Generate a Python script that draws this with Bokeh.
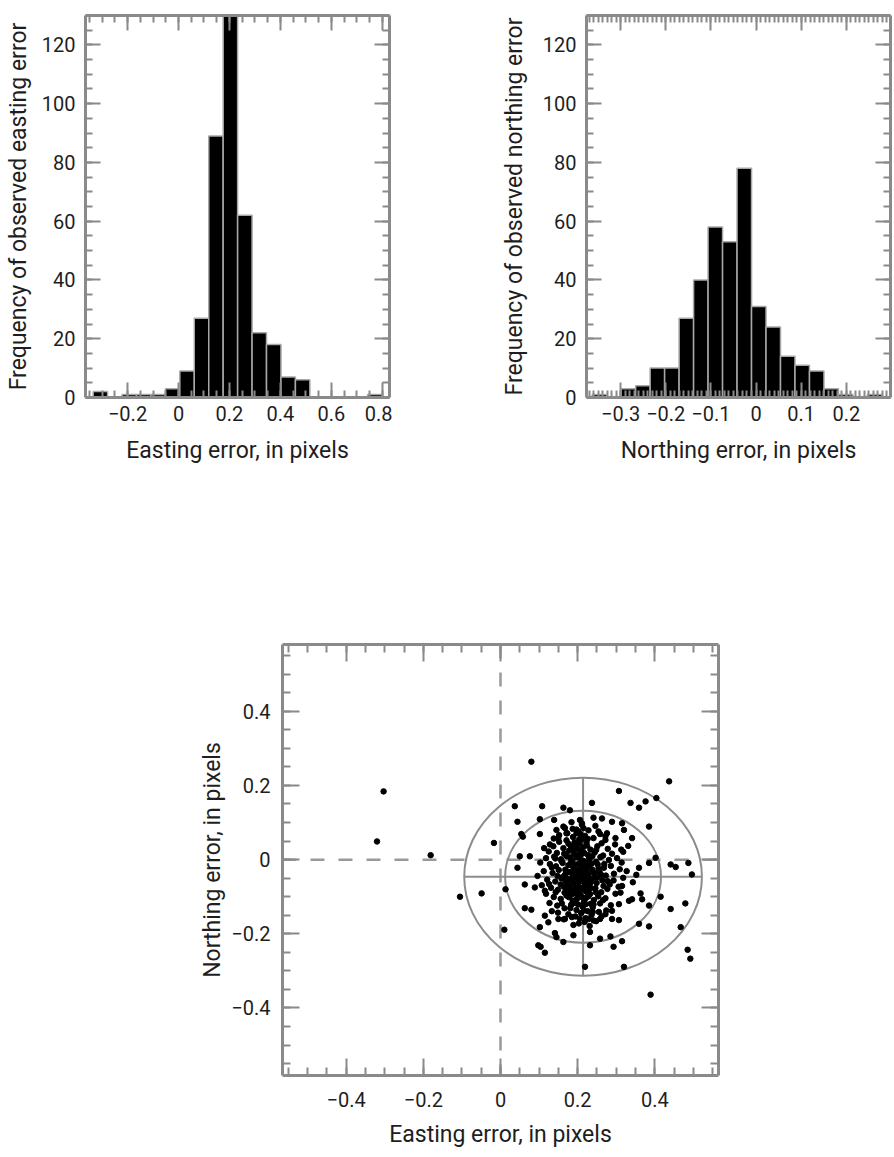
from bokeh.plotting import figure
from bokeh.models import (Range1d, LinearAxis, SingleIntervalTicker,
                          CustomJSTickFormatter, Span, Spacer)
from bokeh.layouts import row, column
from bokeh.embed import file_html
from bokeh.resources import INLINE

# ---------------- data ----------------
east_edges = [-0.335, -0.2783, -0.2216, -0.1649, -0.1082, -0.0515, 0.0052, 0.0619,
              0.1186, 0.1753, 0.232, 0.2887, 0.3454, 0.4021, 0.4588, 0.5155,
              0.5722, 0.6289, 0.6856, 0.7423, 0.799]
east_counts = [2, 0, 1, 1, 1, 3, 9, 27, 89, 130, 62, 22, 18, 7, 6, 0, 0, 0, 0, 1]

north_edges = [-0.363, -0.3309, -0.2988, -0.2667, -0.2346, -0.2025, -0.1704, -0.1383,
               -0.1062, -0.0741, -0.042, -0.0099, 0.0222, 0.0543, 0.0864, 0.1185,
               0.1506, 0.1827, 0.2148, 0.2469, 0.279]
north_counts = [1, 0, 3, 4, 10, 10, 27, 40, 58, 53, 78, 31, 24, 14, 11, 9, 3, 1, 0, 1]

sparse_pts = [
    (-0.303, 0.184), (-0.320, 0.049), (-0.181, 0.012), (-0.017, 0.045), (0.080, 0.264),
    (0.437, 0.211), (0.307, 0.185), (0.337, 0.153), (0.359, 0.140), (0.376, 0.157),
    (0.404, 0.166), (0.037, 0.144), (0.108, 0.144), (0.163, 0.140), (0.180, 0.133),
    (0.237, 0.153), (0.044, 0.102), (0.102, 0.109), (0.139, 0.107), (0.385, 0.089),
    (0.054, 0.069), (0.058, 0.062), (0.102, 0.069), (0.341, 0.058), (0.313, 0.027),
    (0.050, 0.009), (0.076, 0.009), (0.044, -0.022), (0.441, -0.013), (0.454, -0.020),
    (0.487, -0.009), (0.496, -0.040), (0.402, 0.005), (0.359, -0.022), (-0.105, -0.100),
    (-0.049, -0.091), (0.013, -0.080), (0.010, -0.189), (0.063, -0.067), (0.063, -0.131),
    (0.080, -0.135), (0.102, -0.182), (0.098, -0.231), (0.104, -0.235), (0.115, -0.251),
    (0.141, -0.198), (0.145, -0.209), (0.163, -0.222), (0.189, -0.204), (0.219, -0.289),
    (0.232, -0.195), (0.232, -0.231), (0.258, -0.213), (0.285, -0.207), (0.293, -0.235),
    (0.315, -0.220), (0.320, -0.289), (0.389, -0.364), (0.485, -0.243), (0.492, -0.267),
    (0.467, -0.182), (0.441, -0.133), (0.479, -0.118), (0.385, -0.180), (0.359, -0.173),
    (0.385, -0.124), (0.415, -0.100), (0.363, -0.091), (0.367, -0.107), (0.333, -0.111),
    (0.341, -0.107), (0.307, -0.163), (0.289, -0.160),
]

ring_pts = [
    (0.145, 0.080), (0.167, 0.085), (0.171, 0.071), (0.150, 0.058), (0.206, 0.107),
    (0.211, 0.098), (0.215, 0.085), (0.202, 0.076), (0.241, 0.113), (0.263, 0.111),
    (0.289, 0.102), (0.315, 0.098), (0.320, 0.080), (0.254, 0.076), (0.276, 0.071),
    (0.298, 0.058), (0.272, 0.053), (0.385, -0.009), (0.089, -0.075), (0.115, -0.084),
    (0.115, -0.151), (0.124, -0.169), (0.150, -0.160), (0.167, -0.160), (0.185, -0.155),
    (0.228, -0.160), (0.241, -0.164), (0.258, -0.160), (0.272, -0.147), (0.311, -0.089),
    (0.315, -0.071), (0.289, -0.138), (0.307, -0.120),
]

dense_pts = [
    (0.152, 0.048), (0.171, 0.052), (0.188, 0.061), (0.204, 0.055), (0.223, 0.047),
    (0.241, 0.058), (0.262, 0.044), (0.137, 0.036), (0.163, 0.031), (0.196, 0.039),
    (0.214, 0.033), (0.233, 0.027), (0.251, 0.036), (0.278, 0.029), (0.125, 0.022),
    (0.146, 0.018), (0.178, 0.024), (0.191, 0.015), (0.209, 0.021), (0.227, 0.012),
    (0.244, 0.019), (0.266, 0.011), (0.289, 0.016), (0.118, 0.004), (0.139, 0.008),
    (0.157, 0.001), (0.172, 0.009), (0.186, -0.002), (0.199, 0.006), (0.216, -0.004),
    (0.231, 0.003), (0.248, -0.006), (0.259, 0.007), (0.281, -0.001), (0.302, 0.004),
    (0.128, -0.012), (0.144, -0.018), (0.161, -0.009), (0.176, -0.015), (0.189, -0.021),
    (0.203, -0.011), (0.211, -0.024), (0.224, -0.016), (0.238, -0.027), (0.252, -0.013),
    (0.268, -0.022), (0.286, -0.017), (0.309, -0.026), (0.112, -0.031), (0.135, -0.036),
    (0.151, -0.028), (0.167, -0.041), (0.182, -0.033), (0.194, -0.044), (0.207, -0.035),
    (0.219, -0.047), (0.229, -0.038), (0.243, -0.049), (0.257, -0.034), (0.273, -0.043),
    (0.294, -0.038), (0.121, -0.054), (0.142, -0.059), (0.158, -0.051), (0.173, -0.062),
    (0.185, -0.055), (0.198, -0.066), (0.212, -0.057), (0.226, -0.069), (0.236, -0.052),
    (0.249, -0.063), (0.264, -0.056), (0.283, -0.067), (0.131, -0.076), (0.149, -0.081),
    (0.164, -0.073), (0.179, -0.086), (0.192, -0.078), (0.205, -0.089), (0.218, -0.081),
    (0.232, -0.093), (0.246, -0.077), (0.261, -0.088), (0.277, -0.079), (0.298, -0.092),
    (0.138, -0.101), (0.156, -0.106), (0.171, -0.097), (0.187, -0.111), (0.201, -0.103),
    (0.216, -0.115), (0.228, -0.099), (0.242, -0.109), (0.258, -0.118), (0.272, -0.104),
    (0.147, -0.124), (0.166, -0.131), (0.183, -0.122), (0.197, -0.136), (0.213, -0.127),
    (0.226, -0.139), (0.239, -0.129), (0.255, -0.141), (0.176, -0.147), (0.194, -0.153),
    (0.209, -0.144), (0.221, -0.158), (0.236, -0.149), (0.203, -0.172), (0.218, -0.168),
    (0.183, -0.006), (0.195, -0.027), (0.208, -0.019), (0.221, -0.031), (0.186, -0.038),
    (0.199, -0.051), (0.213, -0.042), (0.227, -0.055), (0.176, -0.052), (0.191, -0.064),
    (0.204, -0.074), (0.219, -0.066), (0.233, -0.078), (0.168, -0.027), (0.179, -0.071),
    (0.194, -0.091), (0.208, -0.097), (0.222, -0.086), (0.187, -0.118), (0.201, -0.121),
    (0.214, -0.009), (0.229, -0.002), (0.196, 0.012), (0.182, 0.037), (0.205, 0.043),
    (0.219, 0.064), (0.173, 0.071), (0.197, 0.081), (0.228, 0.079), (0.163, 0.089),
    (0.211, 0.094), (0.184, 0.101), (0.246, 0.091), (0.152, 0.066), (0.138, 0.057),
    (0.258, 0.069), (0.272, 0.063), (0.128, 0.041), (0.113, 0.031), (0.103, -0.008),
    (0.096, -0.044), (0.107, -0.069), (0.118, -0.092), (0.127, -0.117), (0.293, -0.056),
    (0.306, -0.073), (0.318, -0.049), (0.327, -0.031), (0.314, -0.008), (0.297, 0.041),
    (0.318, 0.021), (0.331, 0.037), (0.343, -0.061), (0.352, -0.041), (0.286, -0.123),
    (0.274, -0.137), (0.262, -0.153), (0.248, -0.166), (0.231, -0.179), (0.189, -0.176),
    (0.164, -0.161), (0.149, -0.143), (0.133, -0.139), (0.142, 0.003), (0.156, -0.067),
    (0.166, -0.089), (0.253, -0.099), (0.267, -0.071), (0.241, -0.121), (0.216, -0.137),
]

center_pts = [
    (0.158, -0.004), (0.165, 0.016), (0.174, -0.034), (0.181, 0.006), (0.188, -0.047),
    (0.193, -0.013), (0.197, -0.082), (0.202, 0.027), (0.206, -0.059), (0.209, -0.004),
    (0.212, -0.076), (0.217, 0.018), (0.223, -0.044), (0.226, -0.091), (0.229, -0.021),
    (0.234, -0.061), (0.238, 0.009), (0.243, -0.036), (0.247, -0.088), (0.251, -0.048),
    (0.169, -0.058), (0.177, -0.101), (0.184, -0.083), (0.189, 0.028), (0.196, -0.108),
    (0.203, -0.043), (0.207, 0.011), (0.214, -0.103), (0.218, -0.029), (0.224, 0.038),
    (0.231, -0.071), (0.236, -0.011), (0.162, -0.047), (0.171, -0.079), (0.185, -0.094),
    (0.192, 0.047), (0.199, -0.029), (0.211, 0.056), (0.221, -0.104), (0.234, -0.119),
    (0.181, -0.131), (0.197, 0.071), (0.176, 0.043), (0.254, -0.024), (0.261, -0.041),
    (0.248, 0.026), (0.266, -0.109), (0.159, -0.118), (0.143, -0.088), (0.148, -0.044),
    (0.187, 0.083), (0.207, 0.069), (0.226, 0.056), (0.239, -0.141), (0.205, -0.159),
    (0.221, -0.120), (0.278, -0.058), (0.269, -0.012), (0.133, -0.021), (0.126, -0.066),
]

ell_cx, ell_cy = 0.214, -0.046
outer_rx, outer_ry = 0.308, 0.267
inner_rx, inner_ry = 0.202, 0.178

# ---------------- style ----------------
FONT = "Roboto"
FRAME = "#8a8a8a"
TXT = "#1e1e1e"
TICK_PX = "20px"
LABEL_PX = "23px"


def minus_fmt():
    return CustomJSTickFormatter(code="""
        const v = Math.round(tick * 1000) / 1000;
        if (Math.abs(v) < 1e-9) { return '0'; }
        return (v < 0 ? '\u2212' : '') + String(Math.abs(v));
    """)


def blank_fmt():
    return CustomJSTickFormatter(code="return '';")


def style_axis(ax, ticker, show, major=15, minor=7, fmt=None, standoff=8):
    ax.ticker = ticker
    ax.major_tick_in = major
    ax.major_tick_out = 0
    ax.minor_tick_in = minor
    ax.minor_tick_out = 0
    ax.major_tick_line_color = FRAME
    ax.major_tick_line_width = 2
    ax.minor_tick_line_color = FRAME
    ax.minor_tick_line_width = 2
    ax.axis_line_color = FRAME
    ax.axis_line_width = 3
    ax.major_label_text_font = FONT
    ax.major_label_text_font_size = TICK_PX
    ax.major_label_text_color = TXT
    if show:
        if fmt is not None:
            ax.formatter = fmt
        ax.major_label_standoff = standoff
        ax.axis_label_text_font = FONT
        ax.axis_label_text_font_size = LABEL_PX
        ax.axis_label_text_font_style = "normal"
        ax.axis_label_text_color = TXT
    else:
        ax.formatter = blank_fmt()
        ax.major_label_standoff = 0
        ax.axis_label = None


def hist_fig(edges, counts, xr, xlabel, ylabel, x_int, x_minor, width, bl, br, ylab_off):
    p = figure(width=width, height=470, x_range=Range1d(*xr), y_range=Range1d(0, 130),
               output_backend="svg", toolbar_location=None,
               min_border_left=bl, min_border_right=br, min_border_top=15,
               min_border_bottom=73)
    p.quad(left=edges[:-1], right=edges[1:], bottom=0, top=counts,
           fill_color="black", line_color="#a8a8a8", line_width=1.5)
    p.add_layout(LinearAxis(), "right")
    p.add_layout(LinearAxis(), "above")
    p.grid.visible = False
    p.outline_line_color = None
    xt = SingleIntervalTicker(interval=x_int, num_minor_ticks=x_minor)
    yt = SingleIntervalTicker(interval=20, num_minor_ticks=4)
    style_axis(p.below[0], xt, True, fmt=minus_fmt(), standoff=8)
    style_axis(p.above[0], xt, False)
    style_axis(p.left[0], yt, True, standoff=10)
    style_axis(p.right[0], yt, False)
    p.below[0].axis_label = xlabel
    p.below[0].axis_label_standoff = 13
    p.left[0].axis_label = ylabel
    p.left[0].axis_label_standoff = ylab_off
    return p


p1 = hist_fig(east_edges, east_counts, (-0.365, 0.828), "Easting error, in pixels",
              "Frequency of observed easting error", 0.2, 4, 392, 85, 3, 7)
p2 = hist_fig(north_edges, north_counts, (-0.3756, 0.298), "Northing error, in pixels",
              "Frequency of observed northing error", 0.1, 10, 501, 194, 3, 12)

# ---------------- scatter ----------------
pts = sparse_pts + ring_pts + dense_pts + center_pts
east_err = [q[0] for q in pts]
north_err = [q[1] for q in pts]

p3 = figure(width=576, height=680, x_range=Range1d(-0.565, 0.565),
            y_range=Range1d(-0.582, 0.58), output_backend="svg", toolbar_location=None,
            min_border_left=132, min_border_right=8, min_border_top=174,
            min_border_bottom=70)
p3.add_layout(LinearAxis(), "right")
p3.add_layout(LinearAxis(), "above")
p3.grid.visible = False
p3.outline_line_color = None
st = SingleIntervalTicker(interval=0.2, num_minor_ticks=4)
style_axis(p3.below[0], st, True, major=17, minor=8, fmt=minus_fmt(), standoff=16)
style_axis(p3.above[0], st, False, major=17, minor=8)
style_axis(p3.left[0], st, True, major=17, minor=8, fmt=minus_fmt(), standoff=12)
style_axis(p3.right[0], st, False, major=17, minor=8)
p3.below[0].axis_label = "Easting error, in pixels"
p3.below[0].axis_label_standoff = 11
p3.left[0].axis_label = "Northing error, in pixels"
p3.left[0].axis_label_standoff = 2

DASH = "#9a9a9a"
p3.add_layout(Span(location=0, dimension="width", line_color=DASH, line_width=2.5,
                   line_dash="14 14", level="underlay"))
p3.add_layout(Span(location=0, dimension="height", line_color=DASH, line_width=2.5,
                   line_dash="14 14", level="underlay"))

ELL = "#8c8c8c"
p3.ellipse(x=[ell_cx, ell_cx], y=[ell_cy, ell_cy],
           width=[2 * outer_rx, 2 * inner_rx], height=[2 * outer_ry, 2 * inner_ry],
           fill_color=None, line_color=ELL, line_width=2)
p3.segment(x0=[ell_cx - outer_rx, ell_cx], y0=[ell_cy, ell_cy - outer_ry],
           x1=[ell_cx + outer_rx, ell_cx], y1=[ell_cy, ell_cy + outer_ry],
           line_color=ELL, line_width=2)
p3.scatter(east_err, north_err, size=5.5, color="black")

layout = column(row(p1, p2), row(Spacer(width=150, height=680), p3))

open("out.html", "w").write(file_html(layout, INLINE))
